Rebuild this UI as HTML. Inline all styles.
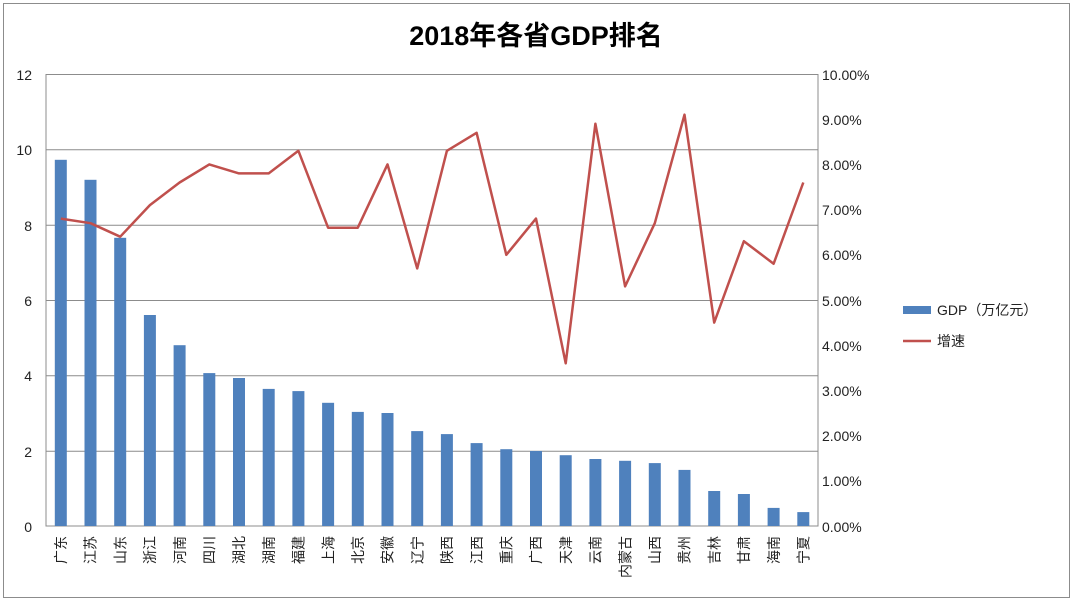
<!DOCTYPE html>
<html><head><meta charset="utf-8"><style>
html,body{margin:0;padding:0;background:#fff}
svg text{font-family:"Liberation Sans","Noto Sans CJK SC",sans-serif;fill:#222}
</style></head><body>
<svg width="1072" height="601" viewBox="0 0 1072 601" xmlns="http://www.w3.org/2000/svg">
<rect x="3.5" y="3.5" width="1066" height="594" fill="#fff" stroke="#8c8c8c"/>
<text x="536" y="45" text-anchor="middle" font-size="27" font-weight="bold" style="fill:#000">2018年各省GDP排名</text>
<g stroke="#8c8c8c" stroke-width="1">
<line x1="46" y1="149.8" x2="818" y2="149.8"/>
<line x1="46" y1="225.2" x2="818" y2="225.2"/>
<line x1="46" y1="300.5" x2="818" y2="300.5"/>
<line x1="46" y1="375.8" x2="818" y2="375.8"/>
<line x1="46" y1="451.2" x2="818" y2="451.2"/>
<rect x="46" y="74.5" width="772" height="451.5" fill="none"/>
</g>
<g font-size="14" text-anchor="end">
<text x="32" y="80">12</text><text x="32" y="155">10</text><text x="32" y="231">8</text>
<text x="32" y="306">6</text><text x="32" y="381">4</text><text x="32" y="457">2</text><text x="32" y="532">0</text>
</g>
<g font-size="14">
<text x="822" y="80">10.00%</text><text x="822" y="125">9.00%</text><text x="822" y="170">8.00%</text>
<text x="822" y="215">7.00%</text><text x="822" y="260">6.00%</text><text x="822" y="306">5.00%</text>
<text x="822" y="351">4.00%</text><text x="822" y="396">3.00%</text><text x="822" y="441">2.00%</text>
<text x="822" y="486">1.00%</text><text x="822" y="532">0.00%</text>
</g>
<g fill="#4f81bd">
<rect x="54.8" y="159.8" width="12" height="366.2"/>
<rect x="84.5" y="179.8" width="12" height="346.2"/>
<rect x="114.2" y="237.8" width="12" height="288.2"/>
<rect x="143.9" y="315" width="12" height="211"/>
<rect x="173.6" y="345.2" width="12" height="180.8"/>
<rect x="203.3" y="373.1" width="12" height="152.9"/>
<rect x="233" y="378" width="12" height="148"/>
<rect x="262.7" y="388.9" width="12" height="137.1"/>
<rect x="292.4" y="391.1" width="12" height="134.9"/>
<rect x="322.1" y="402.8" width="12" height="123.2"/>
<rect x="351.8" y="411.9" width="12" height="114.1"/>
<rect x="381.5" y="413" width="12" height="113"/>
<rect x="411.2" y="431.1" width="12" height="94.9"/>
<rect x="440.9" y="434.1" width="12" height="91.9"/>
<rect x="470.6" y="443.1" width="12" height="82.9"/>
<rect x="500.3" y="449.2" width="12" height="76.8"/>
<rect x="530" y="451" width="12" height="75"/>
<rect x="559.7" y="455.2" width="12" height="70.8"/>
<rect x="589.4" y="459" width="12" height="67"/>
<rect x="619.1" y="460.8" width="12" height="65.2"/>
<rect x="648.8" y="463.1" width="12" height="62.9"/>
<rect x="678.5" y="469.9" width="12" height="56.1"/>
<rect x="708.2" y="491" width="12" height="35"/>
<rect x="737.9" y="494" width="12" height="32"/>
<rect x="767.6" y="507.9" width="12" height="18.1"/>
<rect x="797.3" y="512.1" width="12" height="13.9"/>
</g>
<polyline fill="none" stroke="#c0504d" stroke-width="2.5" stroke-linejoin="round" points="60.8,218.6 90.5,223.2 120.2,236.7 149.9,205.1 179.6,182.5 209.3,164.4 239,173.4 268.7,173.4 298.4,150.8 328.1,227.7 357.8,227.7 387.5,164.4 417.2,268.4 446.9,150.8 476.6,132.8 506.3,254.8 536,218.6 565.7,363.3 595.4,123.7 625.1,286.4 654.8,223.2 684.5,114.7 714.2,322.6 743.9,241.2 773.6,263.8 803.3,182.5"/>
<g font-size="14" text-anchor="end">
<text transform="translate(66,536) rotate(-90)">广东</text>
<text transform="translate(95.7,536) rotate(-90)">江苏</text>
<text transform="translate(125.4,536) rotate(-90)">山东</text>
<text transform="translate(155.1,536) rotate(-90)">浙江</text>
<text transform="translate(184.8,536) rotate(-90)">河南</text>
<text transform="translate(214.5,536) rotate(-90)">四川</text>
<text transform="translate(244.2,536) rotate(-90)">湖北</text>
<text transform="translate(273.9,536) rotate(-90)">湖南</text>
<text transform="translate(303.6,536) rotate(-90)">福建</text>
<text transform="translate(333.3,536) rotate(-90)">上海</text>
<text transform="translate(363,536) rotate(-90)">北京</text>
<text transform="translate(392.7,536) rotate(-90)">安徽</text>
<text transform="translate(422.4,536) rotate(-90)">辽宁</text>
<text transform="translate(452.1,536) rotate(-90)">陕西</text>
<text transform="translate(481.8,536) rotate(-90)">江西</text>
<text transform="translate(511.5,536) rotate(-90)">重庆</text>
<text transform="translate(541.2,536) rotate(-90)">广西</text>
<text transform="translate(570.9,536) rotate(-90)">天津</text>
<text transform="translate(600.6,536) rotate(-90)">云南</text>
<text transform="translate(630.3,536) rotate(-90)">内蒙古</text>
<text transform="translate(660,536) rotate(-90)">山西</text>
<text transform="translate(689.7,536) rotate(-90)">贵州</text>
<text transform="translate(719.4,536) rotate(-90)">吉林</text>
<text transform="translate(749.1,536) rotate(-90)">甘肃</text>
<text transform="translate(778.8,536) rotate(-90)">海南</text>
<text transform="translate(808.5,536) rotate(-90)">宁夏</text>
</g>
<rect x="903" y="306" width="28" height="8" fill="#4f81bd"/>
<text x="937" y="315" font-size="14">GDP（万亿元）</text>
<line x1="903" y1="341" x2="931" y2="341" stroke="#c0504d" stroke-width="2.5"/>
<text x="937" y="346" font-size="14">增速</text>
</svg>
</body></html>
